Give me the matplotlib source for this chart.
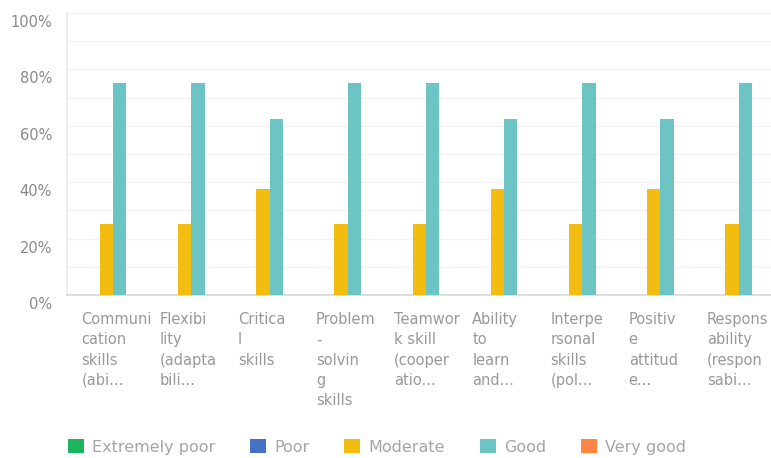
import numpy as np
import matplotlib.pyplot as plt
from matplotlib.transforms import ScaledTranslation

# skill categories (labels are already wrapped / truncated)
categorias = [
    "Communi\ncation\nskills\n(abi...",
    "Flexibi\nlity\n(adapta\nbili...",
    "Critica\nl\nskills",
    "Problem\n-\nsolvin\ng\nskills",
    "Teamwor\nk skill\n(cooper\natio...",
    "Ability\nto\nlearn\nand...",
    "Interpe\nrsonal\nskills\n(pol...",
    "Positiv\ne\nattitud\ne...",
    "Respons\nability\n(respon\nsabi...",
]

series = ["Extremely poor", "Poor", "Moderate", "Good", "Very good"]
colores = ["#1db35f", "#4472c4", "#f2bd10", "#6cc4c4", "#fd8645"]

extremely_poor = [0, 0, 0, 0, 0, 0, 0, 0, 0]
poor = [0, 0, 0, 0, 0, 0, 0, 0, 0]
moderate = [25, 25, 37.5, 25, 25, 37.5, 25, 37.5, 25]
good = [75, 75, 62.5, 75, 75, 62.5, 75, 62.5, 75]
very_good = [0, 0, 0, 0, 0, 0, 0, 0, 0]

valores = [extremely_poor, poor, moderate, good, very_good]

fig = plt.figure(figsize=(7.71, 4.58), dpi=100)
ax = fig.add_axes([0.0875, 0.356, 0.9125, 0.6157])

x = np.arange(len(categorias))
ancho = 0.17
for k, (nombre, vals, col) in enumerate(zip(series, valores, colores)):
    ax.bar(x + (k - 2) * ancho, vals, width=ancho, color=col, label=nombre, zorder=3)

ax.set_xlim(-0.5, len(categorias) - 0.5)
ax.set_ylim(0, 100)
ax.set_yticks(np.arange(0, 101, 10))
ax.set_yticklabels([f"{v}%" if v % 20 == 0 else "" for v in range(0, 101, 10)])
ax.tick_params(axis='y', length=0, labelsize=10.5, labelcolor='#8a8a8a', pad=11)
ax.tick_params(axis='x', length=0, labelbottom=False)

# y labels sit a little below their gridline
desplazar = ScaledTranslation(0, -8 / 100, fig.dpi_scale_trans)
for lbl in ax.get_yticklabels():
    lbl.set_transform(lbl.get_transform() + desplazar)

ax.grid(axis='y', color='#f2f2f2', linewidth=1, zorder=0)
for lado in ['top', 'right']:
    ax.spines[lado].set_visible(False)
ax.spines['left'].set_color('#eeeeee')
ax.spines['left'].set_linewidth(1.5)
ax.spines['bottom'].set_color('#d8d8d8')
ax.spines['bottom'].set_linewidth(1.2)

for i, texto in enumerate(categorias):
    ax.text(i - 0.5 + 0.18, -0.062, texto, transform=ax.get_xaxis_transform(),
            ha='left', va='top', fontsize=10.5, color='#999999', linespacing=1.42)

fig.legend(loc='center', bbox_to_anchor=(377 / 771, 0.024), ncol=5, frameon=False,
           fontsize=11.5, labelcolor='#a5a5a5', handlelength=1.0, handleheight=1.0,
           handletextpad=0.5, columnspacing=2.2)

fig.savefig("out.png", dpi=100)
